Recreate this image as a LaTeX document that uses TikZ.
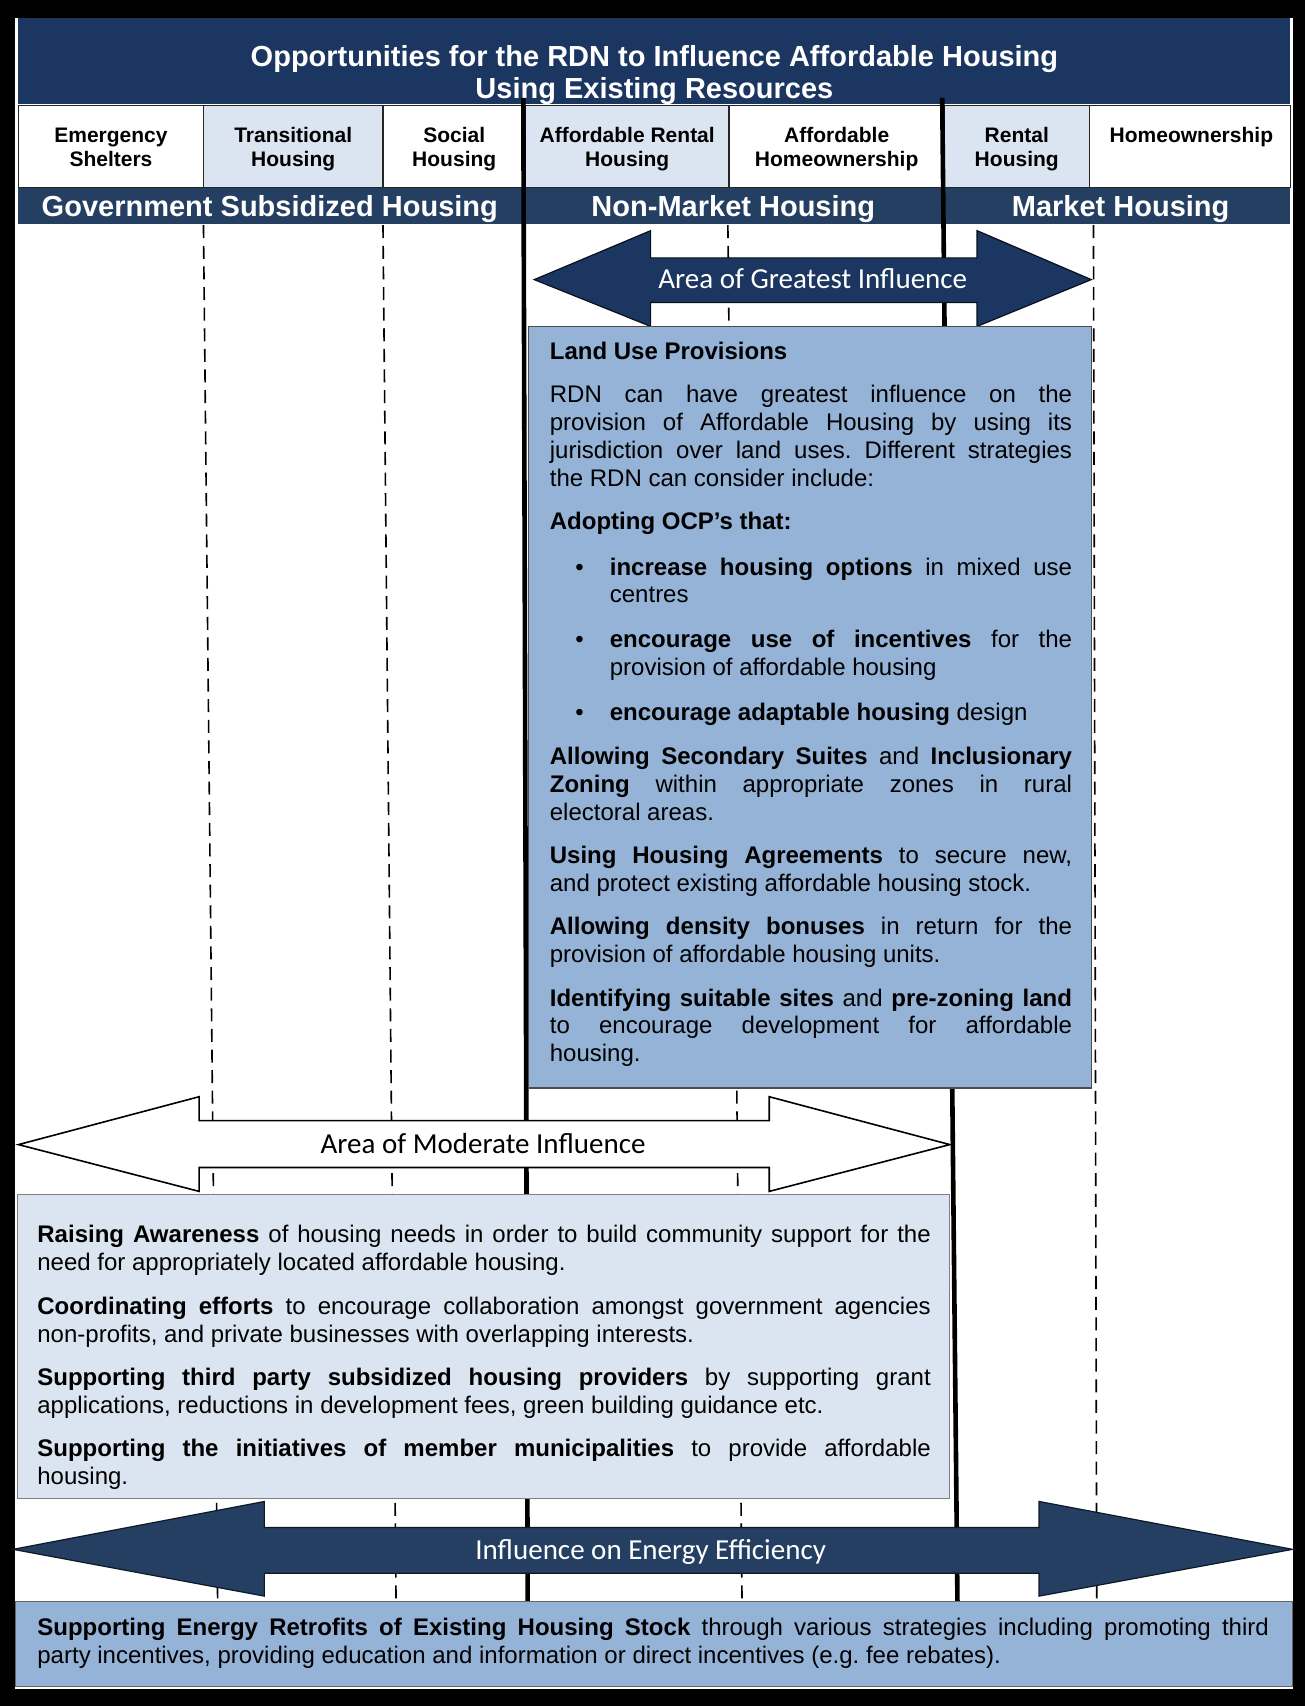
\documentclass[tikz,border=0pt]{standalone}
\usepackage{xcolor}
\usepackage{fontspec}
\setmainfont{Liberation Sans}
\newfontfamily\calfont{Carlito}
\usepackage{tikz}
\usetikzlibrary{positioning}
\frenchspacing

\definecolor{navytop}{HTML}{1B3660}
\definecolor{navyband}{HTML}{243F62}
\definecolor{paleblue}{HTML}{DBE5F1}
\definecolor{midblue}{HTML}{95B3D7}

% bullet line with hanging indent
\newcommand{\landitem}{\par\vspace{0.8pt}\hangindent=30pt\hangafter=0\noindent\llap{\textbullet\hspace{13pt}}}

\begin{document}
\begin{tikzpicture}[x=0.5438pt,y=-0.5438pt,
    cell/.style={draw=black!85,line width=0.6pt},
    hdr/.style={font=\fontsize{10.5}{12}\selectfont\bfseries,align=center,anchor=north,inner sep=0pt},
    band/.style={font=\fontsize{14.5}{16.3}\selectfont\bfseries,text=white,inner sep=0pt},
    body/.style={font=\fontsize{12}{13.9}\selectfont,align=justify,anchor=north west,inner sep=0pt,
      execute at begin node={\setlength{\parskip}{7.85pt}}},
    arrowlbl/.style={font=\calfont\fontsize{14.5}{16}\selectfont,anchor=base,inner sep=0pt},
    divider/.style={line width=2.3pt},
    colline/.style={dash pattern=on 6.5pt off 3.8pt,line width=0.8pt}]
  \useasboundingbox (0,0) rectangle (1199,1568);
  \fill[black] (0,0) rectangle (1199,1568);
  \fill[white] (14,17) rectangle (1188,1552);

  % title
  \fill[navytop] (17,17) rectangle (1186,96);
  \node[band,align=center,anchor=north] (title) at (601.5,41)
    {Opportunities for the RDN to Influence Affordable Housing\\Using Existing Resources};

  % housing types
  \filldraw[cell,fill=white] (17,97) rectangle (187,172);
  \filldraw[cell,fill=paleblue] (187,97) rectangle (352,172);
  \filldraw[cell,fill=white] (352,97) rectangle (483,172);
  \filldraw[cell,fill=paleblue] (483,97) rectangle (670,172);
  \filldraw[cell,fill=white] (670,97) rectangle (868,172);
  \filldraw[cell,fill=paleblue] (868,97) rectangle (1001,172);
  \filldraw[cell,fill=white] (1001,97) rectangle (1186,172);
  \node[hdr] (emerg) at (102,117) {Emergency\\Shelters};
  \node[hdr] (trans) at (269.5,117) {Transitional\\Housing};
  \node[hdr] (social) at (417.5,117) {Social\\Housing};
  \node[hdr] (afrent) at (576.5,117) {Affordable Rental\\Housing};
  \node[hdr] (afhome) at (769,117) {Affordable\\Homeownership};
  \node[hdr] (rental) at (934.5,117) {Rental\\Housing};
  \node[hdr] (homeown) at (1095,117) {Homeownership};

  % categories
  \fill[navyband] (17,173) rectangle (1186,206);
  \node[band,anchor=base] (govsub) at (248,198.6) {Government Subsidized Housing};
  \node[band,anchor=base] (nonmkt) at (674,198.6) {Non-Market Housing};
  \node[band,anchor=base] (mkt) at (1030,198.6) {Market Housing};

  % column guides
  \draw[colline] (187,207) -- (200,1470);
  \draw[colline] (352,207) -- (364,1470);
  \draw[colline] (669,207) -- (682,1470);
  \draw[colline] (1005,207) -- (1008,1470);
  \draw[divider] (481,90) -- (485,1472);
  \draw[divider] (866,90) -- (880,1472);

  % area of greatest influence
  \filldraw[fill=navytop,draw=black!70!navytop,line width=0.6pt]
    (491,257) -- (598,212) -- (598,237) -- (898,237) -- (898,212) -- (1003,257)
    -- (898,300) -- (898,278) -- (598,278) -- (598,300) -- cycle;
  \node[arrowlbl,text=white] (greatest) at (747,265.6) {Area of Greatest Influence};

  \filldraw[fill=midblue,draw=black!70,line width=0.6pt] (486,300) rectangle (1003,1000);
  \node[body,text width=261pt] (landuse) at (505,314) {%
    \textbf{Land Use Provisions}\par
    RDN can have greatest influence on the\linebreak
    provision of Affordable Housing by using its\linebreak
    jurisdiction over land uses. Different strategies\linebreak
    the RDN can consider include:\par
    \textbf{Adopting OCP’s that:}\par
    \landitem\textbf{increase housing options} in mixed use\linebreak centres\par
    \landitem\textbf{encourage use of incentives} for the\linebreak provision of affordable housing\par
    \landitem\textbf{encourage adaptable housing} design\par
    \textbf{Allowing Secondary Suites} and \textbf{Inclusionary}\linebreak
    \textbf{Zoning} within appropriate zones in rural\linebreak electoral areas.\par
    \textbf{Using Housing Agreements} to secure new,\linebreak
    and protect existing affordable housing stock.\par
    \textbf{Allowing density bonuses} in return for the\linebreak
    provision of affordable housing units.\par
    \textbf{Identifying suitable sites} and \textbf{pre-zoning land}\linebreak
    to encourage development for affordable\linebreak housing.};

  % area of moderate influence
  \filldraw[fill=white,draw=black,line width=0.8pt]
    (17,1052) -- (183,1008) -- (183,1030) -- (707,1030) -- (707,1008) -- (873,1052)
    -- (707,1095) -- (707,1073) -- (183,1073) -- (183,1095) -- cycle;
  \node[arrowlbl] (moderate) at (444,1060.6) {Area of Moderate Influence};

  \filldraw[fill=paleblue,draw=black!50,line width=0.6pt] (16,1098) rectangle (873,1377);
  \node[body,text width=446.5pt] (modtxt) at (34,1126) {%
    \textbf{Raising Awareness} of housing needs in order to build community support for the\linebreak
    need for appropriately located affordable housing.\par
    \textbf{Coordinating efforts} to encourage collaboration amongst government agencies\linebreak
    non-profits, and private businesses with overlapping interests.\par
    \textbf{Supporting third party subsidized housing providers} by supporting grant\linebreak
    applications, reductions in development fees, green building guidance etc.\par
    \textbf{Supporting the initiatives of member municipalities} to provide affordable\linebreak
    housing.};

  % energy efficiency
  \filldraw[fill=navyband,draw=black!60!navyband,line width=0.6pt]
    (12,1424) -- (243,1380) -- (243,1404) -- (955,1404) -- (955,1380) -- (1188,1424)
    -- (955,1467) -- (955,1446) -- (243,1446) -- (243,1467) -- cycle;
  \node[arrowlbl,text=white] (energy) at (598,1433.6) {Influence on Energy Efficiency};

  \filldraw[fill=midblue,draw=black!60,line width=0.6pt] (14,1472) rectangle (1188,1550);
  \node[body,text width=615.5pt] (retrofit) at (34,1487) {%
    \textbf{Supporting Energy Retrofits of Existing Housing Stock} through various strategies including promoting third\linebreak
    party incentives, providing education and information or direct incentives (e.g. fee rebates).};
\end{tikzpicture}
\end{document}
